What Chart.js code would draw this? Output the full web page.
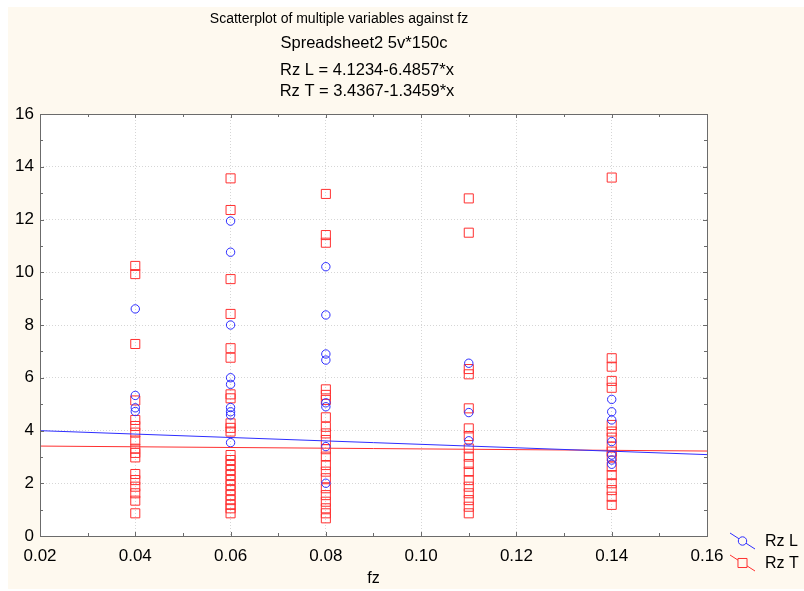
<!DOCTYPE html>
<html>
<head>
<meta charset="utf-8">
<title>Rz vs fz</title>
<script src="https://cdn.jsdelivr.net/npm/chart.js@4.4.1/dist/chart.umd.min.js"></script>
<style>
  html, body { margin: 0; padding: 0; background: #fff; }
  #wrap { position: relative; width: 804px; height: 591px; }
  #panel { position: absolute; left: 8px; top: 7px; width: 796px; height: 582px; background: #fef9ef; }
  #scatter_canvas { position: absolute; left: 0; top: 0; }
</style>
</head>
<body>
<div id="wrap">
  <div id="panel"></div>
  <canvas id="scatter_canvas" width="804" height="591"></canvas>
</div>
<script>
// feed per tooth (fz) levels
const fzLevels = [0.04, 0.06, 0.08, 0.11, 0.14];

// Rz L, one array per fz level (only the points that show up)
const rzL_004 = [8.61, 5.33, 4.86, 4.72];
const rzL_006 = [11.94, 10.76, 8.00, 6.00, 5.75, 4.87, 4.71, 4.59, 3.54];
const rzL_008 = [10.21, 8.38, 6.90, 6.67, 5.05, 4.90, 3.39, 2.00];
const rzL_011 = [6.55, 4.68, 3.61];
const rzL_014 = [5.18, 4.71, 4.40, 3.58, 3.07, 2.88, 2.72];

// Rz T, one array per fz level
const rzT_004 = [10.24, 9.93, 7.28, 5.14, 4.40, 4.17, 3.92, 3.62, 3.31, 3.15, 2.98, 2.35, 2.12, 1.87, 1.62, 1.34, 0.86];
const rzT_006 = [13.56, 12.36, 9.74, 8.42, 7.12, 6.76, 5.37, 5.22, 4.27, 4.10, 3.96, 3.07, 2.88, 2.69, 2.50, 2.31, 2.12, 1.93, 1.74, 1.55, 1.36, 1.18, 1.05, 0.86];
const rzT_008 = [12.97, 11.41, 11.12, 5.56, 5.35, 5.16, 4.50, 4.14, 3.89, 3.64, 3.29, 3.01, 2.69, 2.44, 2.19, 1.81, 1.55, 1.30, 1.05, 0.86, 0.67];
const rzT_011 = [12.80, 11.50, 6.33, 6.13, 4.84, 4.08, 3.79, 3.32, 3.01, 2.73, 2.44, 2.12, 1.87, 1.62, 1.36, 1.11, 0.86];
const rzT_014 = [13.59, 6.74, 6.42, 5.88, 5.62, 4.21, 3.96, 3.73, 3.39, 3.20, 3.01, 2.63, 2.31, 2.00, 1.74, 1.49, 1.18];

// linear fits: [intercept, slope]
const rzLFit = [4.1234, -6.4857];
const rzTFit = [3.4367, -1.3459];

const xRange = [0.02, 0.16];
const yRange = [0, 16];
const xStep = 0.02;
const yStep = 2;

const titleLines = ['Scatterplot of multiple variables against fz', 'Spreadsheet2 5v*150c'];
const seriesNames = ['Rz L', 'Rz T'];

const blue = '#2e2eff';
const red = '#ff3030';
const FONT = 'Arial, "Liberation Sans", sans-serif';

function toPoints(groups) {
  const pts = [];
  groups.forEach((vals, i) => vals.forEach(v => pts.push({ x: fzLevels[i], y: v })));
  return pts;
}

function fitLine(fit) {
  return xRange.map(x => ({ x: x, y: fit[0] + fit[1] * x }));
}

function fitLabel(name, fit) {
  const sign = fit[1] < 0 ? '-' : '+';
  return name + ' = ' + fit[0].toFixed(4) + sign + Math.abs(fit[1]).toFixed(4) + '*x';
}

const rzLPoints = toPoints([rzL_004, rzL_006, rzL_008, rzL_011, rzL_014]);
const rzTPoints = toPoints([rzT_004, rzT_006, rzT_008, rzT_011, rzT_014]);

// white plot area
const plotBackground = {
  id: 'plotBackground',
  beforeDraw(chart) {
    const { ctx, chartArea: a } = chart;
    ctx.save();
    ctx.fillStyle = '#ffffff';
    ctx.fillRect(a.left, a.top, a.right - a.left, a.bottom - a.top);
    ctx.restore();
  }
};

// frame with inward ticks on all four sides
const plotFrame = {
  id: 'plotFrame',
  afterDatasetsDraw(chart) {
    const { ctx, chartArea: a, scales } = chart;
    const xs = scales.x, ys = scales.y;
    ctx.save();
    ctx.strokeStyle = '#6b6b6b';
    ctx.lineWidth = 1;
    ctx.strokeRect(Math.round(a.left) + 0.5, Math.round(a.top) + 0.5,
      Math.round(a.right - a.left), Math.round(a.bottom - a.top));
    ctx.beginPath();
    for (let v = xRange[0]; v <= xRange[1] + 1e-9; v += xStep / 2) {
      const px = Math.round(xs.getPixelForValue(v)) + 0.5;
      const major = Math.abs(Math.round(v / xStep) * xStep - v) < 1e-9;
      const len = major ? 4 : 3;
      ctx.moveTo(px, a.bottom); ctx.lineTo(px, a.bottom - len);
      ctx.moveTo(px, a.top); ctx.lineTo(px, a.top + len);
    }
    for (let v = yRange[0]; v <= yRange[1]; v += yStep / 2) {
      const py = Math.round(ys.getPixelForValue(v)) + 0.5;
      const len = v % yStep === 0 ? 4 : 3;
      ctx.moveTo(a.left, py); ctx.lineTo(a.left + len, py);
      ctx.moveTo(a.right, py); ctx.lineTo(a.right - len, py);
    }
    ctx.stroke();
    ctx.restore();
  }
};

// title block above the plot
const titleBlock = {
  id: 'titleBlock',
  afterDraw(chart) {
    const ctx = chart.ctx;
    ctx.save();
    ctx.fillStyle = '#000';
    ctx.textAlign = 'center';
    ctx.textBaseline = 'middle';
    ctx.font = '14px ' + FONT;
    ctx.fillText(titleLines[0], 339, 19);
    ctx.font = '16.5px ' + FONT;
    ctx.fillText(titleLines[1], 364, 43);
    ctx.fillText(fitLabel(seriesNames[0], rzLFit), 367, 70);
    ctx.fillText(fitLabel(seriesNames[1], rzTFit), 367, 91);
    ctx.restore();
  }
};

// legend in the lower right corner, slanted line through the marker
const cornerLegend = {
  id: 'cornerLegend',
  afterDraw(chart) {
    const ctx = chart.ctx;
    const sets = chart.data.datasets.filter(d => d.showLine === false);
    ctx.save();
    sets.forEach((ds, i) => {
      const y0 = 533 + i * 22;
      ctx.strokeStyle = ds.borderColor;
      ctx.lineWidth = 1;
      ctx.beginPath();
      ctx.moveTo(730, y0);
      ctx.lineTo(755, y0 + 16);
      ctx.stroke();
      ctx.fillStyle = '#fef9ef';
      Chart.helpers.drawPoint(ctx, {
        pointStyle: ds.pointStyle, radius: ds.pointRadius, borderWidth: 1
      }, 742.5, y0 + 8);
      ctx.fillStyle = '#000';
      ctx.font = '16px ' + FONT;
      ctx.textAlign = 'left';
      ctx.textBaseline = 'middle';
      ctx.fillText(ds.label, 765, y0 + 9);
    });
    ctx.restore();
  }
};

const ctx = document.getElementById('scatter_canvas');

new Chart(ctx, {
  type: 'scatter',
  data: {
    datasets: [
      {
        label: seriesNames[0] + ' fit',
        data: fitLine(rzLFit),
        showLine: true,
        borderColor: blue,
        borderWidth: 1,
        pointRadius: 0
      },
      {
        label: seriesNames[1] + ' fit',
        data: fitLine(rzTFit),
        showLine: true,
        borderColor: red,
        borderWidth: 1,
        pointRadius: 0
      },
      {
        label: seriesNames[0],
        data: rzLPoints,
        showLine: false,
        pointStyle: 'circle',
        pointRadius: 4.2,
        borderColor: blue,
        backgroundColor: 'rgba(0,0,0,0)',
        borderWidth: 1
      },
      {
        label: seriesNames[1],
        data: rzTPoints,
        showLine: false,
        pointStyle: 'rect',
        pointRadius: 6.4,
        borderColor: red,
        backgroundColor: 'rgba(0,0,0,0)',
        borderWidth: 1
      }
    ]
  },
  options: {
    responsive: false,
    animation: false,
    layout: {
      padding: { left: 0, top: 114, right: 97, bottom: 0 }
    },
    scales: {
      x: {
        type: 'linear',
        min: xRange[0],
        max: xRange[1],
        afterFit: s => { s.height = 55; },
        ticks: {
          stepSize: xStep,
          padding: 10,
          color: '#000',
          font: { family: FONT, size: 17 },
          callback: v => v.toFixed(2)
        },
        grid: { color: '#d6d6d6', drawTicks: false },
        border: { display: false, dash: [1, 2] },
        title: {
          display: true,
          text: 'fz',
          color: '#000',
          font: { family: FONT, size: 16 },
          padding: { top: 0, bottom: 3 }
        }
      },
      y: {
        min: yRange[0],
        max: yRange[1],
        afterFit: s => { s.width = 40; },
        ticks: {
          stepSize: yStep,
          padding: 6,
          color: '#000',
          font: { family: FONT, size: 17 }
        },
        grid: { color: '#d6d6d6', drawTicks: false },
        border: { display: false, dash: [1, 2] }
      }
    },
    plugins: {
      legend: { display: false },
      tooltip: { enabled: false }
    }
  },
  plugins: [plotBackground, plotFrame, titleBlock, cornerLegend]
});
</script>
</body>
</html>
